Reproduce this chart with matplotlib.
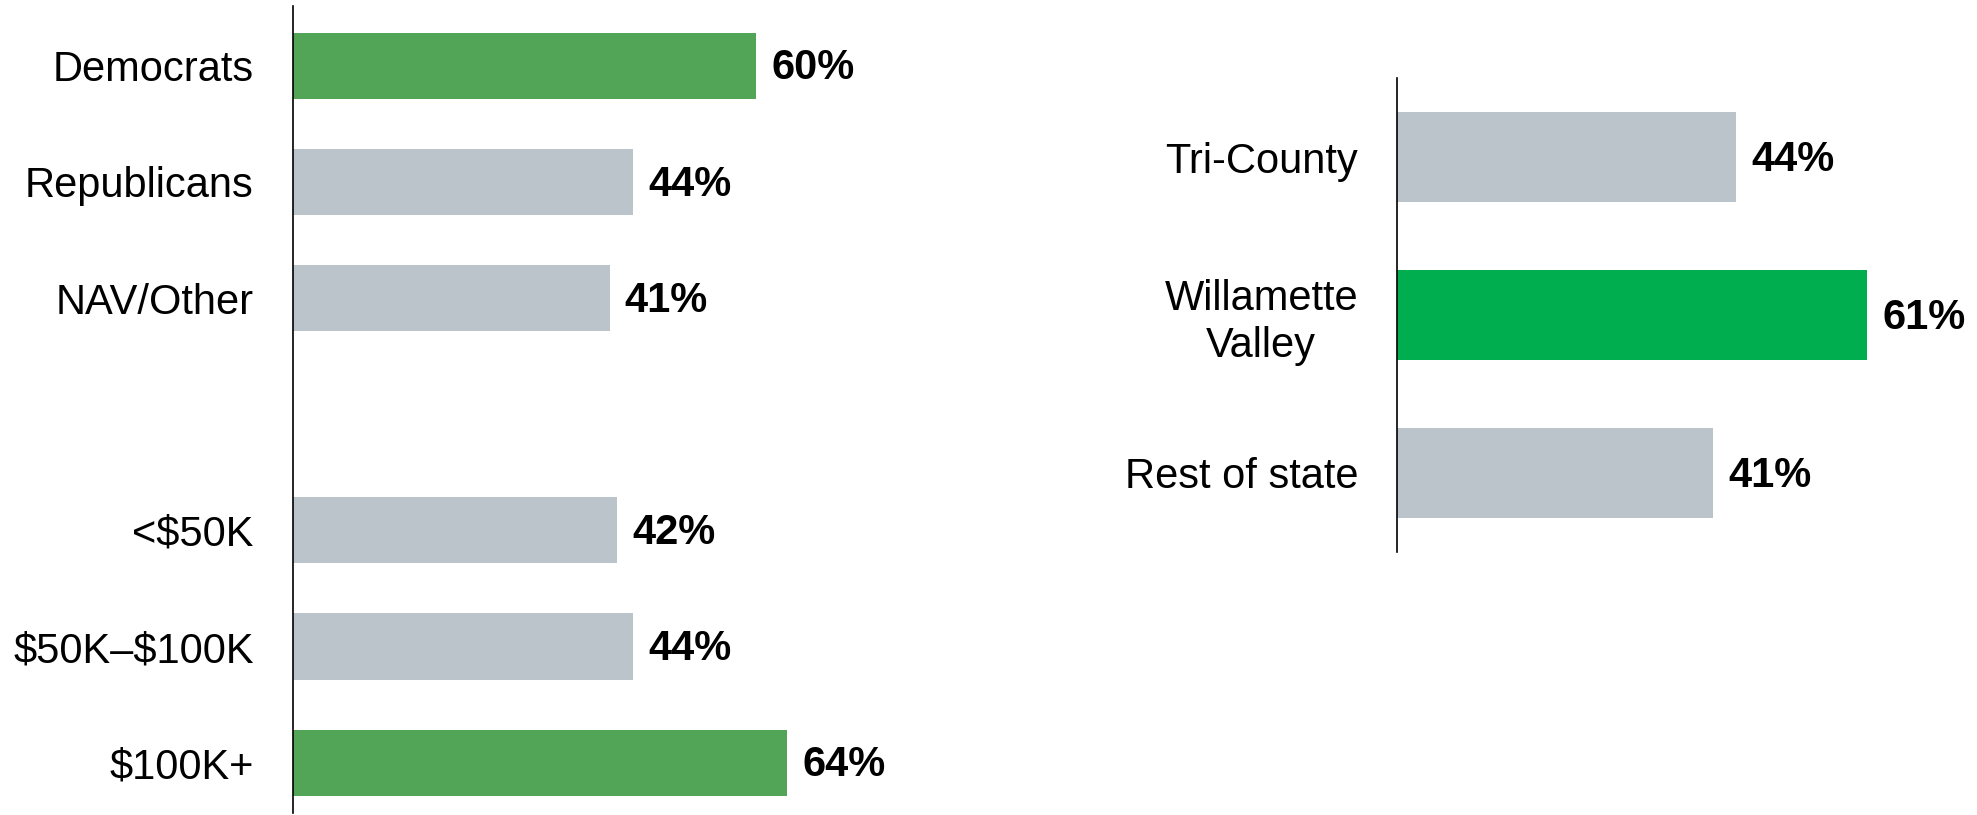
import matplotlib
matplotlib.use("Agg")
import matplotlib.pyplot as plt

plt.rcParams['font.family'] = ['Liberation Sans', 'DejaVu Sans']

# Left panel data
left_labels = ["Democrats", "Republicans", "NAV/Other", "<\\$50K", "\\$50K\u2013\\$100K", "\\$100K+"]
left_positions = [0, 1, 2, 4, 5, 6]
left_values = [60, 44, 41, 42, 44, 64]
left_highlight = [True, False, False, False, False, True]

# Right panel data
right_labels = ["Tri-County", "Willamette\nValley", "Rest of state"]
right_positions = [0, 1, 2]
right_values = [44, 61, 41]
right_highlight = [False, True, False]

GRAY = "#BAC4CA"
GREEN_L = "#52A457"
GREEN_R = "#00AE4F"

W, H = 1977, 815
fig = plt.figure(figsize=(W / 100, H / 100), dpi=100)


def draw(ax, labels, pos, vals, hl, green, ylim, xmax):
    colors = [green if h else GRAY for h in hl]
    ax.barh(pos, vals, height=0.57, color=colors)
    ax.set_ylim(*ylim)
    ax.set_xlim(0, xmax)
    ax.set_yticks(pos)
    ax.set_yticklabels(labels, fontsize=30, ha='right', multialignment='center')
    ax.tick_params(axis='y', length=0, pad=28)
    ax.set_xticks([])
    for s in ['top', 'right', 'bottom']:
        ax.spines[s].set_visible(False)
    ax.spines['left'].set_linewidth(1.2)
    ax.spines['left'].set_color('black')
    for p, v in zip(pos, vals):
        ax.annotate(f"{v}%", xy=(v, p), xytext=(11, -2), textcoords='offset points',
                    ha='left', va='center', fontsize=30, fontweight='bold')


axL = fig.add_axes([292.5 / W, 2 / H, 70 * 7.733 / W, 807 / H])
draw(axL, left_labels, left_positions, left_values, left_highlight, GREEN_L, (6.433, -0.514), 70)

axR = fig.add_axes([1397 / W, 263 / H, 74 * 7.71 / W, 474 / H])
draw(axR, right_labels, right_positions, right_values, right_highlight, GREEN_R, (2.5, -0.5), 74)

fig.savefig("out.png", dpi=100)
